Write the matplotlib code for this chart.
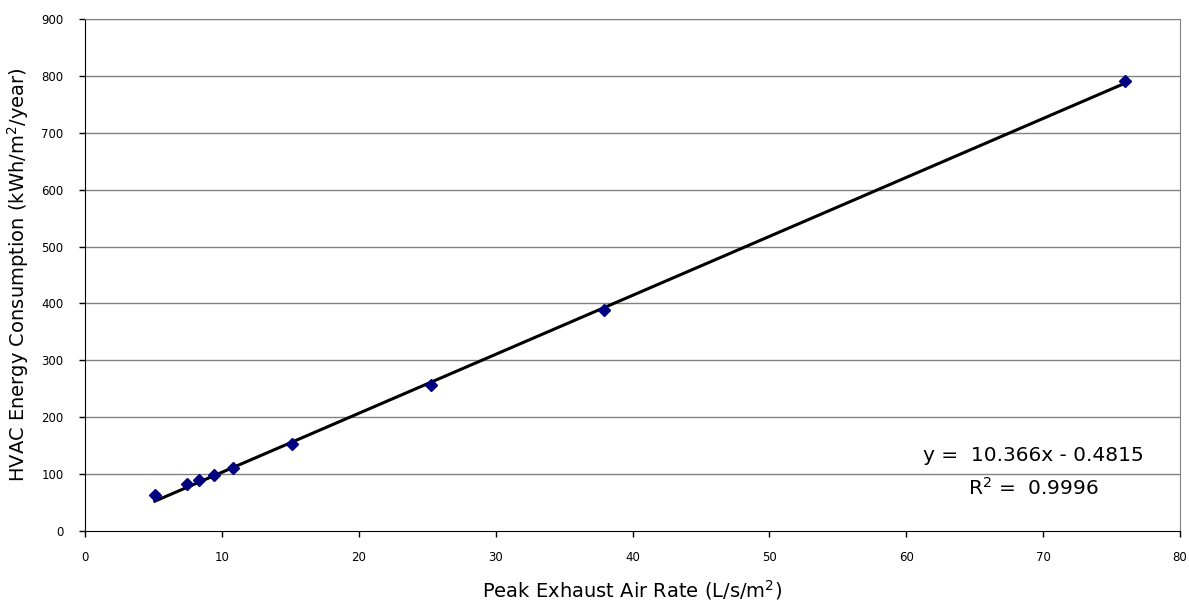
import matplotlib
matplotlib.use('Agg')
import matplotlib.pyplot as plt
import numpy as np

# data
exhaust_rate = [5.1, 7.45, 8.35, 9.45, 10.8, 15.1, 25.3, 37.9, 76.0]
hvac_energy = [63, 82, 89, 98, 110, 153, 256, 388, 791]
slope = 10.366
intercept = -0.4815
r2 = 0.9996

x_ticks = list(range(0, 81, 10))
y_ticks = list(range(0, 901, 100))

plt.rcParams['font.family'] = ['DejaVu Sans']

fig = plt.figure(figsize=(11.89, 6.03), dpi=100)
ax = fig.add_axes([85 / 1189, 1 - 531 / 603, 1095 / 1189, 512 / 603])

for yv in y_ticks[1:]:
    ax.axhline(yv, color='#808080', linewidth=1.0, zorder=1)

ax.plot(exhaust_rate, hvac_energy, linestyle='none', marker='D', markersize=6.3,
        color='#000080', zorder=3)

xs = np.array([min(exhaust_rate), max(exhaust_rate)])
ax.plot(xs, slope * xs + intercept, color='black', linewidth=2.2, zorder=2)

ax.set_xlim(0, 80)
ax.set_ylim(0, 900)
ax.set_xticks(x_ticks)
ax.set_yticks(y_ticks)
ax.tick_params(axis='both', labelsize=8.5, direction='out', length=4.5, width=1, color='black')
ax.tick_params(axis='x', pad=10)
ax.tick_params(axis='y', pad=11)

for side in ['top', 'right']:
    ax.spines[side].set_color('#808080')
for side in ['left', 'bottom']:
    ax.spines[side].set_color('black')

ax.set_xlabel('Peak Exhaust Air Rate (L/s/m$^2$)', fontsize=14, labelpad=10)
ax.set_ylabel('HVAC Energy Consumption (kWh/m$^2$/year)', fontsize=14, labelpad=7)

ax.text(0.866, 0.148, f'y =  {slope}x - {abs(intercept)}', transform=ax.transAxes,
        ha='center', va='center', fontsize=14.5)
ax.text(0.866, 0.084, f'R$^2$ =  {r2}', transform=ax.transAxes,
        ha='center', va='center', fontsize=14.5)

fig.savefig('out.png', dpi=100)
